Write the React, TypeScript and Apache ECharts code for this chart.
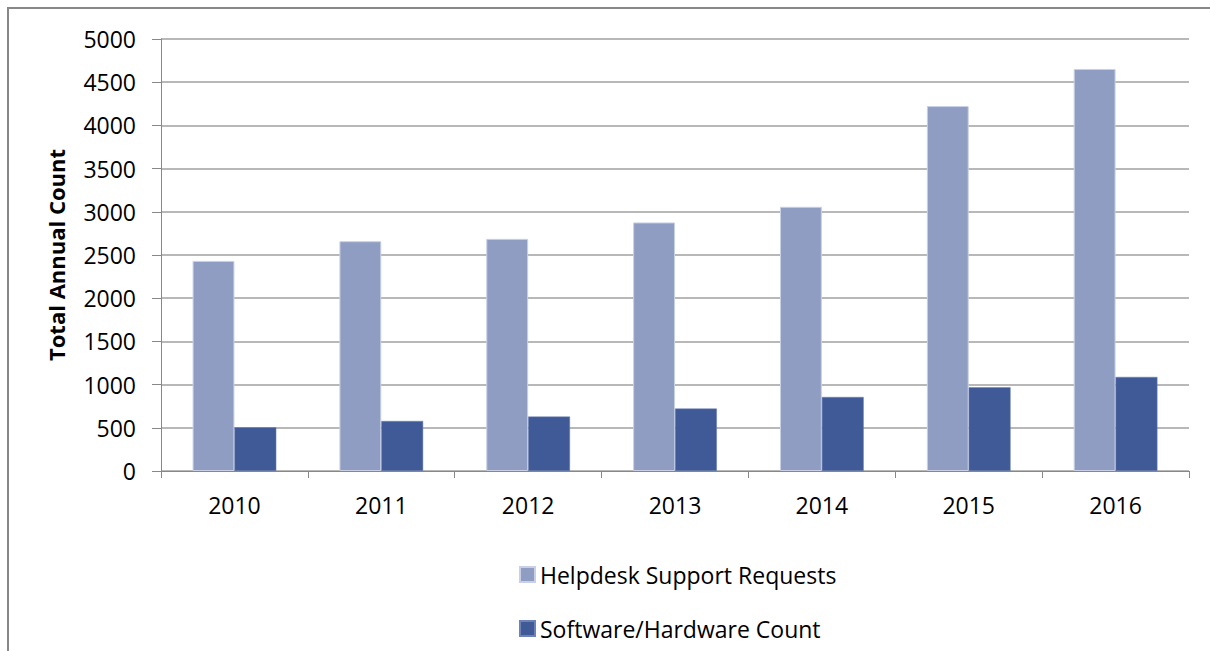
import React, { useEffect, useRef } from "react";
import * as echarts from "echarts";

const years = ["2010", "2011", "2012", "2013", "2014", "2015", "2016"];
const helpdeskRequests = [2432, 2660, 2687, 2877, 3058, 4224, 4653];
const softwareHardware = [506, 579, 630, 723, 857, 969, 1089];
const seriesNames = ["Helpdesk Support Requests", "Software/Hardware Count"];

const FONT = "'Open Sans', 'Liberation Sans', sans-serif";

export default function App() {
  const ref = useRef<HTMLDivElement>(null);

  useEffect(() => {
    if (!ref.current) return;
    const chart = echarts.init(ref.current, null, { renderer: "svg" });
    const legendBase = {
      orient: "horizontal",
      left: 519,
      padding: 0,
      itemWidth: 15,
      itemHeight: 15,
      icon: "rect",
      itemGap: 6,
      textStyle: { fontSize: 23, color: "#000", fontFamily: FONT, padding: [0, 0, 0, 0] },
    };
    chart.setOption({
      animation: false,
      backgroundColor: "#ffffff",
      textStyle: { fontFamily: FONT },
      graphic: [
        {
          type: "rect",
          shape: { x: 8, y: 8, width: 1400, height: 1000 },
          style: { fill: "none", stroke: "#888888", lineWidth: 2 },
          silent: true,
        },
      ],
      grid: { left: 161, right: 21, top: 39, bottom: 180 },
      legend: [
        { ...legendBase, top: 563, data: [seriesNames[0]] },
        { ...legendBase, top: 617, data: [seriesNames[1]] },
      ],
      xAxis: {
        type: "category",
        data: years,
        axisLine: { lineStyle: { color: "#888888", width: 1 } },
        axisTick: { show: true, length: 7, lineStyle: { color: "#888888" } },
        axisLabel: { fontSize: 23, color: "#000", margin: 22, fontFamily: FONT },
      },
      yAxis: {
        type: "value",
        min: 0,
        max: 5000,
        interval: 500,
        name: "Total Annual Count",
        nameLocation: "middle",
        nameGap: 94,
        nameRotate: 90,
        nameTextStyle: { fontSize: 22, fontWeight: "bold", color: "#000", fontFamily: FONT },
        axisLine: { show: true, lineStyle: { color: "#888888", width: 1 } },
        axisTick: { show: true, length: 9, lineStyle: { color: "#888888" } },
        axisLabel: {
          fontSize: 23,
          color: "#000",
          margin: 25,
          fontFamily: FONT,
          formatter: (v: number) => String(v),
        },
        splitLine: { lineStyle: { color: "#a0a0a0", width: 1.5 } },
      },
      series: [
        {
          name: seriesNames[0],
          type: "bar",
          data: helpdeskRequests,
          barGap: "0%",
          barCategoryGap: "43%",
          itemStyle: { color: "#909dc2", borderColor: "#c9d0e6", borderWidth: 1 },
        },
        {
          name: seriesNames[1],
          type: "bar",
          data: softwareHardware,
          itemStyle: { color: "#3f5a97", borderColor: "#6d82b5", borderWidth: 0.5 },
        },
      ],
    });
    return () => chart.dispose();
  }, []);

  return (
    <div
      ref={ref}
      style={{ position: "absolute", left: 0, top: 0, width: 1210, height: 651 }}
    />
  );
}
